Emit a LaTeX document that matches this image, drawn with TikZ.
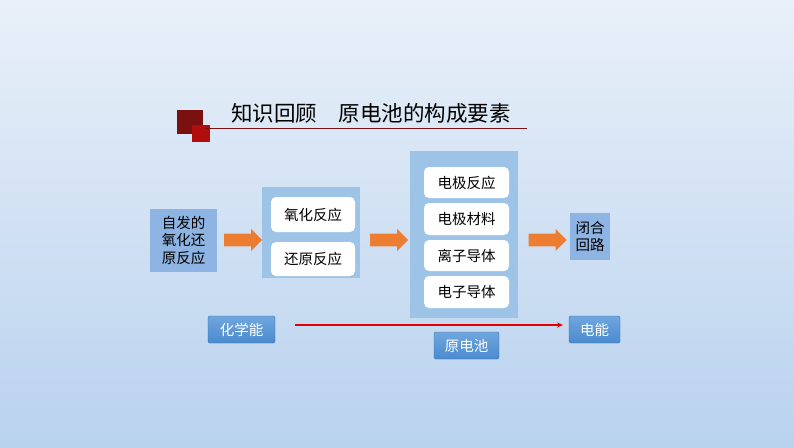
\documentclass[tikz,border=0pt]{standalone}
\usepackage{fontspec}
\newfontfamily\cjk{Noto Sans CJK SC}
\usetikzlibrary{arrows.meta,shapes.arrows}
\definecolor{bgtop}{HTML}{E9F0F9}
\definecolor{bgbot}{HTML}{B9D2EE}
\definecolor{panel}{HTML}{9DC3E6}
\definecolor{panel1}{HTML}{8DB4E2}
\definecolor{org}{HTML}{ED7D31}
\definecolor{btn}{HTML}{4A8BCF}
\definecolor{btnl}{HTML}{6FA6DE}
\definecolor{dred}{HTML}{7B1010}
\definecolor{mred}{HTML}{B00D0D}
\begin{document}
\begin{tikzpicture}[x=1pt,y=-1pt,font=\cjk,
  panelbox/.style={fill=panel,draw=none},
  inner/.style={fill=white,rounded corners=5pt,draw=none},
  txt/.style={font=\cjk\fontsize{14.5}{17.5}\selectfont,align=center},
  arr/.style={single arrow,fill=org,draw=none,minimum height=38pt,minimum width=22pt,single arrow head extend=4pt,inner xsep=0pt,inner ysep=5.5pt},
  btnbox/.style={top color=btnl,bottom color=btn,draw=btn!80!black,rounded corners=1.5pt,text=white,font=\cjk\fontsize{14.5}{17}\selectfont,inner sep=0pt}]
\shade[top color=bgtop,bottom color=bgbot] (0,0) rectangle (794,447);
\useasboundingbox (0,0) rectangle (794,447);
% title
\fill[dred] (177,110) rectangle (203,134);
\fill[mred] (192,125) rectangle (210,142);
\draw[dred,line width=0.8pt] (205,128) -- (527,128);
\node[anchor=west,font=\cjk\fontsize{21.5}{25}\selectfont,inner sep=0pt] (title) at (231,113) {知识回顾\hspace{1em}原电池的构成要素};
% box1
\node[panelbox,fill=panel1,minimum width=67pt,minimum height=63pt,txt,inner sep=0pt] (b1) at (183.5,240.5) {自发的\\氧化还\\原反应};
\node[arr] (a1) at (240,240) {};
% box2
\node[panelbox,minimum width=98pt,minimum height=91pt] (b2) at (311,232.5) {};
\node[inner,minimum width=84pt,minimum height=35pt,txt] (o1) at (313,214.5) {氧化反应};
\node[inner,minimum width=84pt,minimum height=34pt,txt] (o2) at (313,259) {还原反应};
\node[arr] (a2) at (386,240) {};
% box3
\node[panelbox,minimum width=108pt,minimum height=167pt] (b3) at (464,234.5) {};
\node[inner,minimum width=85pt,minimum height=31pt,txt] (e1) at (466.5,182.5) {电极反应};
\node[inner,minimum width=85pt,minimum height=32pt,txt] (e2) at (466.5,219) {电极材料};
\node[inner,minimum width=85pt,minimum height=31pt,txt] (e3) at (466.5,255.5) {离子导体};
\node[inner,minimum width=85pt,minimum height=32pt,txt] (e4) at (466.5,292) {电子导体};
\node[arr] (a3) at (544.5,240) {};
% box4
\node[panelbox,fill=panel1,minimum width=40pt,minimum height=47pt,txt,inner sep=0pt] (b4) at (590,236.5) {闭合\\回路};
% bottom
\node[btnbox,minimum width=67pt,minimum height=27pt] (c1) at (241.5,329.5) {化学能};
\node[btnbox,minimum width=51pt,minimum height=27pt] (c2) at (594.5,329.5) {电能};
\node[btnbox,minimum width=65pt,minimum height=27pt] (c3) at (466.5,345.5) {原电池};
\coordinate (s) at (295,325);
\coordinate (t) at (563,325);
\draw[red!90!black,line width=1.3pt,-{Stealth[length=6pt,width=5pt]}] (s) -- (t);
\end{tikzpicture}
\end{document}
